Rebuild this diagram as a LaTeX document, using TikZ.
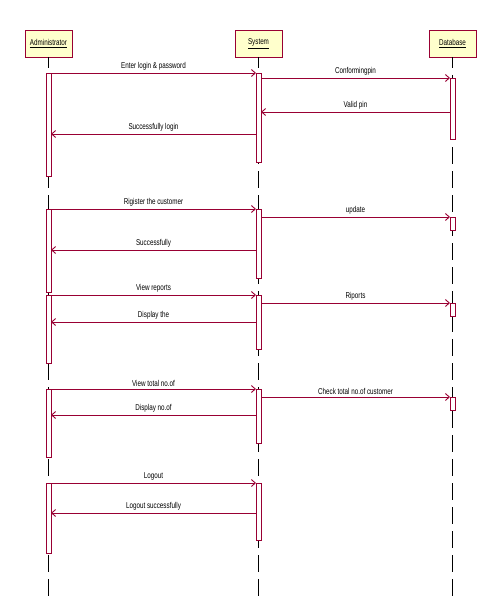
\documentclass[tikz,border=0pt]{standalone}
\usepackage{fontspec}
\newfontfamily\lblfont[FakeStretch=0.74]{Liberation Sans}
\usetikzlibrary{arrows.meta}
\definecolor{umlred}{RGB}{153,0,51}
\definecolor{umlfill}{RGB}{255,255,204}
\tikzset{
  part/.style={draw=umlred, fill=umlfill, line width=0.9pt, minimum width=47pt, minimum height=27pt, inner sep=0pt, outer sep=0pt, font=\lblfont\fontsize{8.5}{10}\selectfont},
  act/.style={draw=umlred, fill=white, line width=0.9pt, minimum width=5pt, inner sep=0pt, outer sep=0pt},
  life/.style={draw=black, line width=0.9pt, dash pattern=on 17pt off 7pt, dash phase=6pt},
  msg/.style={draw=umlred, line width=0.9pt, -{Straight Barb[length=4pt,width=7pt]}},
  lbl/.style={midway, above, inner sep=2pt, font=\lblfont\fontsize{8.5}{10}\selectfont, text=black}
}
\begin{document}
\begin{tikzpicture}[x=1pt,y=-1pt]
\useasboundingbox (0,0) rectangle (492,599);
% participants
\node[part] (adm) at (48.5,43.5) {\underline{Administrator}};
\node[part] (sys) at (258.5,43.5) {\underline{System}};
\node[part] (dbs) at (452.5,43.5) {\underline{Database}};
\coordinate (admend) at (48.5,599);
\coordinate (sysend) at (258.5,599);
\coordinate (dbsend) at (452.5,599);
% lifelines
\draw[life] (adm.south) -- (admend);
\draw[life] (sys.south) -- (sysend);
\draw[life] (dbs.south) -- (dbsend);
% activations
\node[act, minimum height=103pt] (a1) at (48.5,124.5) {};
\node[act, minimum height=83pt] (a2) at (48.5,250.5) {};
\node[act, minimum height=68pt] (a3) at (48.5,329) {};
\node[act, minimum height=68pt] (a4) at (48.5,423) {};
\node[act, minimum height=70pt] (a5) at (48.5,518) {};
\node[act, minimum height=89pt] (s1) at (258.5,117.5) {};
\node[act, minimum height=69pt] (s2) at (258.5,243.5) {};
\node[act, minimum height=54pt] (s3) at (258.5,322) {};
\node[act, minimum height=54pt] (s4) at (258.5,416) {};
\node[act, minimum height=57pt] (s5) at (258.5,511.5) {};
\node[act, minimum height=61pt] (d1) at (452.5,108.5) {};
\node[act, minimum height=13pt] (d2) at (452.5,223.5) {};
\node[act, minimum height=13pt] (d3) at (452.5,309.5) {};
\node[act, minimum height=13pt] (d4) at (452.5,403.5) {};
% messages
\draw[msg] (a1.north east) -- node[lbl] {Enter login \& password} (s1.north west);
\draw[msg] (s1.east |- d1.north) -- node[lbl] {Conformingpin} (d1.north west);
\draw[msg] (d1.west |- 0,112) -- node[lbl] {Valid pin} (s1.east |- 0,112);
\draw[msg] (s1.west |- 0,134) -- node[lbl] {Successfully login} (a1.east |- 0,134);
\draw[msg] (a2.north east) -- node[lbl] {Rigister the customer} (s2.north west);
\draw[msg] (s2.east |- d2.north) -- node[lbl] {update} (d2.north west);
\draw[msg] (s2.west |- 0,250) -- node[lbl] {Successfully} (a2.east |- 0,250);
\draw[msg] (a3.north east) -- node[lbl] {View reports} (s3.north west);
\draw[msg] (s3.east |- d3.north) -- node[lbl] {Riports} (d3.north west);
\draw[msg] (s3.west |- 0,322) -- node[lbl] {Display the} (a3.east |- 0,322);
\draw[msg] (a4.north east) -- node[lbl] {View total no.of} (s4.north west);
\draw[msg] (s4.east |- d4.north) -- node[lbl] {Check total no.of customer} (d4.north west);
\draw[msg] (s4.west |- 0,415) -- node[lbl] {Display no.of} (a4.east |- 0,415);
\draw[msg] (a5.north east) -- node[lbl] {Logout} (s5.north west);
\draw[msg] (s5.west |- 0,513) -- node[lbl] {Logout successfully} (a5.east |- 0,513);
\end{tikzpicture}
\end{document}
